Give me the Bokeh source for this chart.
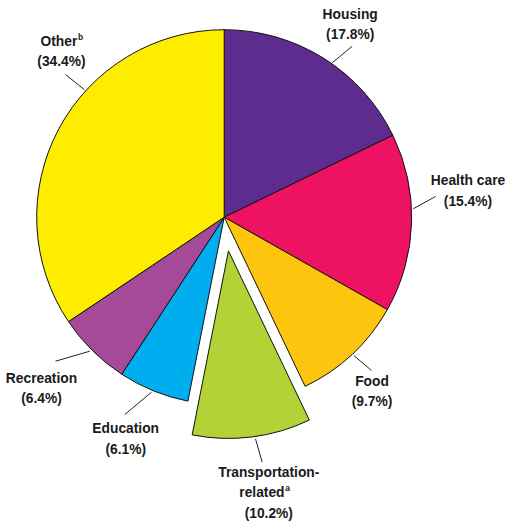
import math
from bokeh.plotting import figure
from bokeh.models import Range1d, ColumnDataSource
from bokeh.core.properties import value
from bokeh.embed import file_html
from bokeh.resources import INLINE

# ---- data ----
categories = ["Housing", "Health care", "Food", "Transportation-related",
              "Education", "Recreation", "Other"]
shares = [17.8, 15.4, 9.7, 10.2, 6.1, 6.4, 34.4]
notes = ["", "", "", "a", "", "", "b"]
exploded = ["Transportation-related"]

# ---- style / layout ----
colors = ["#5E2C8E", "#ED1262", "#FEC50F", "#B2D235", "#00AEEF", "#A54A98", "#FFED00"]
CX, CY = 223.7, 216.7          # pie centre in page pixels
R = 187.5                       # pie radius (px)
EXPLODE = 34.0                  # explode distance (px)
FONT = "Liberation Sans"
FS = 13.8
LINE_H = 20.5
# label layout in page pixels: (x centre, y of first line middle)
label_pos = [(349.7, 13.7), (467.5, 180.0), (371.5, 380.5), (268.3, 471.5),
             (125.2, 428.2), (41.0, 377.7), (61.0, 40.8)]
# right edge of superscripted lines (for notes)
sup_edge = {3: 284.0, 6: 76.8}
leaders = [((351.7, 45.7), (331.7, 62.3)), ((435.0, 196.0), (412.7, 208.3)),
           ((371.0, 370.0), (353.3, 355.0)), ((261.7, 461.7), (255.0, 438.3)),
           ((124.3, 414.0), (151.0, 391.7)), ((55.0, 360.7), (89.3, 350.7)),
           ((65.0, 74.0), (84.0, 89.3))]

W, H = 506, 521
def px(x):
    return x - CX
def py(y):
    return CY - y

p = figure(width=W, height=H, output_backend="svg", toolbar_location=None,
           x_range=Range1d(px(0), px(W)), y_range=Range1d(py(H), py(0)),
           min_border=0, outline_line_color=None)
p.axis.visible = False
p.grid.visible = False
p.background_fill_color = "white"
p.border_fill_color = "white"

total = sum(shares)
xs, ys, starts, ends = [], [], [], []
cum = 0.0
for cat, v in zip(categories, shares):
    a0 = math.pi / 2 - 2 * math.pi * cum / total
    a1 = math.pi / 2 - 2 * math.pi * (cum + v) / total
    mid = (a0 + a1) / 2
    d = EXPLODE if cat in exploded else 0.0
    xs.append(d * math.cos(mid))
    ys.append(d * math.sin(mid))
    starts.append(a0)
    ends.append(a1)
    cum += v

src = ColumnDataSource(dict(x=xs, y=ys, start=starts, end=ends, color=colors,
                            cat=categories, share=shares))
p.wedge(x="x", y="y", radius=R, start_angle="start", end_angle="end",
        direction="clock", fill_color="color", line_color="#111111",
        line_width=1, source=src)

# leaders
p.segment(x0=[px(a[0]) for a, b in leaders], y0=[py(a[1]) for a, b in leaders],
          x1=[px(b[0]) for a, b in leaders], y1=[py(b[1]) for a, b in leaders],
          line_color="#222222", line_width=1)

# labels
tx, ty, tt, ta = [], [], [], []
sx, sy, st = [], [], []
for i, (cat, v) in enumerate(zip(categories, shares)):
    name_lines = cat.replace("-", "-\n").split("\n")
    lines = name_lines + [f"({v}%)"]
    lx, ly = label_pos[i]
    for j, ln in enumerate(lines):
        yy = ly + j * LINE_H
        if notes[i] and j == len(name_lines) - 1:
            edge = sup_edge[i]
            tx.append(px(edge)); ty.append(py(yy)); tt.append(ln); ta.append("right")
            sx.append(px(edge + 0.8)); sy.append(py(yy - 4.5)); st.append(notes[i])
        else:
            tx.append(px(lx)); ty.append(py(yy)); tt.append(ln); ta.append("center")

p.text(x=tx, y=ty, text=tt, text_align=ta, text_baseline="middle",
       text_font=value(FONT), text_font_style="bold", text_font_size=f"{FS}px",
       text_color="#1a1a1a")
p.text(x=sx, y=sy, text=st, text_align="left", text_baseline="middle",
       text_font=value(FONT), text_font_style="bold", text_font_size="8.5px",
       text_color="#1a1a1a")

open("out.html", "w").write(file_html(p, INLINE))
